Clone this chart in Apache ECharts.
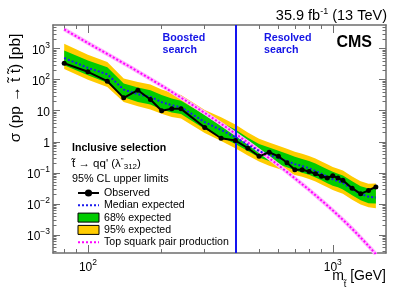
<!DOCTYPE html>
<html><head><meta charset="utf-8">
<script src="https://cdn.jsdelivr.net/npm/echarts@6/dist/echarts.min.js"></script>
<style>html,body{margin:0;padding:0;background:#fff}#c{width:407px;height:292px}</style>
</head><body><div id="c"></div>
<script>
// ---- data ----
const masses   = [80,100,120,140,160,180,200,220,240,300,350,400,450,500,550,600,650,700,750,800,850,900,950,1000,1050,1100,1200,1300,1400,1500];
const observed = [340,180,90,26,46,23,10,11.5,11.5,2.9,1.3,1.1,0.62,0.34,0.46,0.34,0.21,0.126,0.126,0.11,0.093,0.077,0.068,0.080,0.068,0.057,0.032,0.021,0.027,0.035];
const expMedian= [500,240,150,48,34,28,19,15,13,4.3,2.4,1.4,0.8,0.5,0.38,0.30,0.24,0.19,0.165,0.14,0.115,0.092,0.075,0.062,0.054,0.047,0.030,0.021,0.017,0.016];
const exp68Lo  = [290,140,80,27,19,16,11,8.8,7.8,2.6,1.45,0.85,0.5,0.31,0.24,0.19,0.15,0.12,0.10,0.087,0.071,0.057,0.046,0.038,0.034,0.029,0.019,0.013,0.0105,0.0102];
const exp68Hi  = [880,420,250,75,56,46,32,25,21,7.4,4.2,2.5,1.35,0.85,0.65,0.51,0.41,0.33,0.28,0.24,0.20,0.16,0.13,0.108,0.094,0.082,0.053,0.037,0.031,0.035];
const exp95Lo  = [220,100,58,19,14,11,8,6.3,5.6,1.9,1.05,0.62,0.36,0.23,0.17,0.135,0.11,0.085,0.075,0.063,0.052,0.042,0.034,0.028,0.024,0.021,0.0135,0.0095,0.0077,0.0072];
const exp95Hi  = [1450,640,370,110,85,70,48,38,32,10.5,6.2,3.6,2.0,1.25,0.95,0.75,0.6,0.48,0.41,0.35,0.29,0.23,0.19,0.155,0.135,0.118,0.076,0.053,0.044,0.045];
const stopMasses = [80,100,150,200,250,300,350,400,450,500,550,600,650,700,750,800,850,900,950,1000,1050,1100,1150,1200,1250,1300,1350,1400,1450,1500];
const stopXsec   = [4200,1520,249,64.5,21.6,8.52,3.79,1.83,0.948,0.518,0.296,0.175,0.107,0.067,0.043,0.0283,0.0189,0.0128,0.00883,0.00615,0.00432,0.00307,0.00219,0.00157,0.00113,0.00082,0.000598,0.000437,0.000321,0.000237];
const searchBoundary = 400;
const xMajorTicks = [100, 1000];
const xMinorTicks = [80, 90, 200, 300, 400, 500, 600, 700, 800, 900];
const yMajorTicks = [1e-3, 1e-2, 1e-1, 1, 10, 100, 1000];
const yMinorTicks = [];
for (let e = -4; e <= 3; e++) for (let k = 2; k <= 9; k++) { const v = k * Math.pow(10, e); if (v > 2.6e-4 && v < 5800) yMinorTicks.push(v); }

const FONT = '"Liberation Sans", Arial, Helvetica, sans-serif';
const AX = '#6e6e6e';
const X_MIN = 72, X_MAX = 1650, Y_MIN = 2.6e-4, Y_MAX = 5800;

function powLabel(v) {
  const e = Math.round(Math.log10(v));
  if (e === 0) return '{b|1}';
  if (e === 1) return '{b|10}';
  return '{b|10}{sup|' + (e < 0 ? '\u2212' + (-e) : e) + '}';
}
const labelRich = {
  b: { fontSize: 12, lineHeight: 16, verticalAlign: 'bottom', fontFamily: FONT, color: '#000' },
  sup: { fontSize: 8.5, lineHeight: 6, verticalAlign: 'top', fontFamily: FONT, color: '#000' }
};

function xAx(pos, major) {
  return {
    type: 'log', min: X_MIN, max: X_MAX, position: pos,
    axisLine: { show: major, onZero: false, lineStyle: { color: AX, width: 1.5 } },
    axisTick: { show: true, inside: true, length: major ? 8 : 4, customValues: major ? xMajorTicks : xMinorTicks, lineStyle: { color: AX, width: 1 } },
    axisLabel: (major && pos === 'bottom') ? { show: true, customValues: xMajorTicks, formatter: powLabel, rich: labelRich, margin: 5 } : { show: false },
    splitLine: { show: false }, minorTick: { show: false }
  };
}
function yAx(pos, major) {
  return {
    type: 'log', min: Y_MIN, max: Y_MAX, position: pos,
    axisLine: { show: major, onZero: false, lineStyle: { color: AX, width: 1.5 } },
    axisTick: { show: true, inside: true, length: major ? 7 : 3.5, customValues: major ? yMajorTicks : yMinorTicks, lineStyle: { color: AX, width: 1 } },
    axisLabel: (major && pos === 'left') ? { show: true, customValues: yMajorTicks, formatter: powLabel, rich: labelRich, margin: 3 } : { show: false },
    splitLine: { show: false }, minorTick: { show: false }
  };
}

function band(name, lo, hi, color) {
  return {
    type: 'custom', name: name, xAxisIndex: 0, yAxisIndex: 0, silent: true, z: 1,
    data: masses.map((m, i) => [m, lo[i], hi[i]]),
    encode: { x: 0, y: [1, 2] },
    renderItem: function (params, api) {
      if (params.dataIndex !== 0) return;
      const top = [], bot = [];
      for (let i = 0; i < masses.length; i++) {
        top.push(api.coord([masses[i], hi[i]]));
        bot.push(api.coord([masses[i], lo[i]]));
      }
      return { type: 'polygon', shape: { points: top.concat(bot.reverse()) }, style: { fill: color } };
    }
  };
}

const chart = echarts.init(document.getElementById('c'), null, { renderer: 'canvas' });
chart.setOption({
  animation: false,
  backgroundColor: '#fff',
  textStyle: { fontFamily: FONT },
  grid: { left: 53, right: 21, top: 25, bottom: 39, containLabel: false },
  xAxis: [xAx('bottom', true), xAx('bottom', false), xAx('top', true), xAx('top', false)],
  yAxis: [yAx('left', true), yAx('left', false), yAx('right', true), yAx('right', false)],
  legend: {
    left: 72, top: 182, orient: 'vertical', selectedMode: false,
    itemWidth: 21, itemHeight: 9, itemGap: 0.3,
    textStyle: { fontSize: 10.6, fontFamily: FONT, color: '#000', lineHeight: 12 },
    data: [
      { name: 'Observed', itemStyle: { color: '#000' } },
      { name: 'Median expected', itemStyle: { opacity: 0 } },
      { name: '68% expected', icon: 'rect', itemStyle: { color: '#00cc00', borderColor: '#000', borderWidth: 1 } },
      { name: '95% expected', icon: 'rect', itemStyle: { color: '#ffcc00', borderColor: '#000', borderWidth: 1 } },
      { name: 'Top squark pair production', itemStyle: { opacity: 0 } }
    ]
  },
  series: [
    band('95% expected', exp95Lo, exp95Hi, '#ffcc00'),
    band('68% expected', exp68Lo, exp68Hi, '#00cc00'),
    { type: 'line', name: 'stop-glow', data: stopMasses.map((m, i) => [m, stopXsec[i]]), symbol: 'none', z: 3,
      lineStyle: { color: '#ffb4ff', width: 4 }, silent: true },
    { type: 'line', name: 'Top squark pair production', data: stopMasses.map((m, i) => [m, stopXsec[i]]), symbol: 'none', z: 3,
      lineStyle: { color: '#ff00ff', width: 2, type: [2, 2] }, itemStyle: { color: '#ff00ff' }, silent: true },
    { type: 'line', name: 'Median expected', data: masses.map((m, i) => [m, expMedian[i]]), symbol: 'none', z: 4,
      lineStyle: { color: '#1a1aee', width: 2, type: [2, 2] }, itemStyle: { color: '#1a1aee' }, silent: true,
      markLine: { silent: true, symbol: 'none', label: { show: false }, lineStyle: { color: '#1414f0', width: 2, type: 'solid' },
        data: [{ xAxis: searchBoundary }] } },
    { type: 'line', name: 'Observed', data: masses.map((m, i) => [m, observed[i]]), symbol: 'circle', symbolSize: 5, z: 5,
      lineStyle: { color: '#000', width: 2 }, itemStyle: { color: '#000' }, silent: true }
  ],
  graphic: [
    { type: 'text', x: 387, y: 15, style: { text: '{a|35.9 fb}{s|-1}{a| (13 TeV)}', align: 'right', verticalAlign: 'middle',
      rich: { a: { fontSize: 14.5, fontFamily: FONT, lineHeight: 16, verticalAlign: 'bottom', fill: '#000' },
              s: { fontSize: 9, fontFamily: FONT, lineHeight: 8, verticalAlign: 'top', fill: '#000' } } } },
    { type: 'text', x: 372, y: 42.5, style: { text: 'CMS', font: 'bold 16px ' + FONT, align: 'right', verticalAlign: 'middle', fill: '#000' } },
    { type: 'text', x: 162.5, y: 32, style: { text: 'Boosted\nsearch', font: 'bold 10.7px ' + FONT, lineHeight: 12, align: 'left', verticalAlign: 'top', fill: '#1414e6' } },
    { type: 'text', x: 264, y: 32, style: { text: 'Resolved\nsearch', font: 'bold 10.7px ' + FONT, lineHeight: 12, align: 'left', verticalAlign: 'top', fill: '#1414e6' } },
    { type: 'text', x: 16, y: 88, rotation: Math.PI / 2, style: { text: '\u03c3 (pp \u2192 t\u0303 t\u0303) [pb]', font: '15.5px ' + FONT, align: 'center', verticalAlign: 'middle', fill: '#000' } },
    { type: 'text', x: 386, y: 279, style: { text: '{a|m}{u|t\u0303}{a| [GeV]}', align: 'right', verticalAlign: 'middle',
      rich: { a: { fontSize: 14, fontFamily: FONT, lineHeight: 16, verticalAlign: 'top', fill: '#000' },
              u: { fontSize: 9, fontFamily: FONT, lineHeight: 20, verticalAlign: 'bottom', fill: '#000' } } } },
    { type: 'text', x: 72, y: 148, style: { text: 'Inclusive selection', font: 'bold 10.6px ' + FONT, align: 'left', verticalAlign: 'middle', fill: '#000' } },
    { type: 'text', x: 72, y: 164, style: { text: '{a|t\u0303 \u2192 qq\' (\u03bb}{s|"}{u|312}{a|)}', align: 'left', verticalAlign: 'middle',
      rich: { a: { fontSize: 11.5, fontFamily: FONT, lineHeight: 14, verticalAlign: 'middle', fill: '#000' },
              s: { fontSize: 8, fontFamily: FONT, lineHeight: 9, verticalAlign: 'top', fill: '#000' },
              u: { fontSize: 8, fontFamily: FONT, lineHeight: 8, verticalAlign: 'bottom', fill: '#000' } } } },
    { type: 'text', x: 72, y: 179.5, style: { text: '95% CL upper limits', font: '10.8px ' + FONT, align: 'left', verticalAlign: 'middle', fill: '#000' } }
  ]
});
</script></body></html>
